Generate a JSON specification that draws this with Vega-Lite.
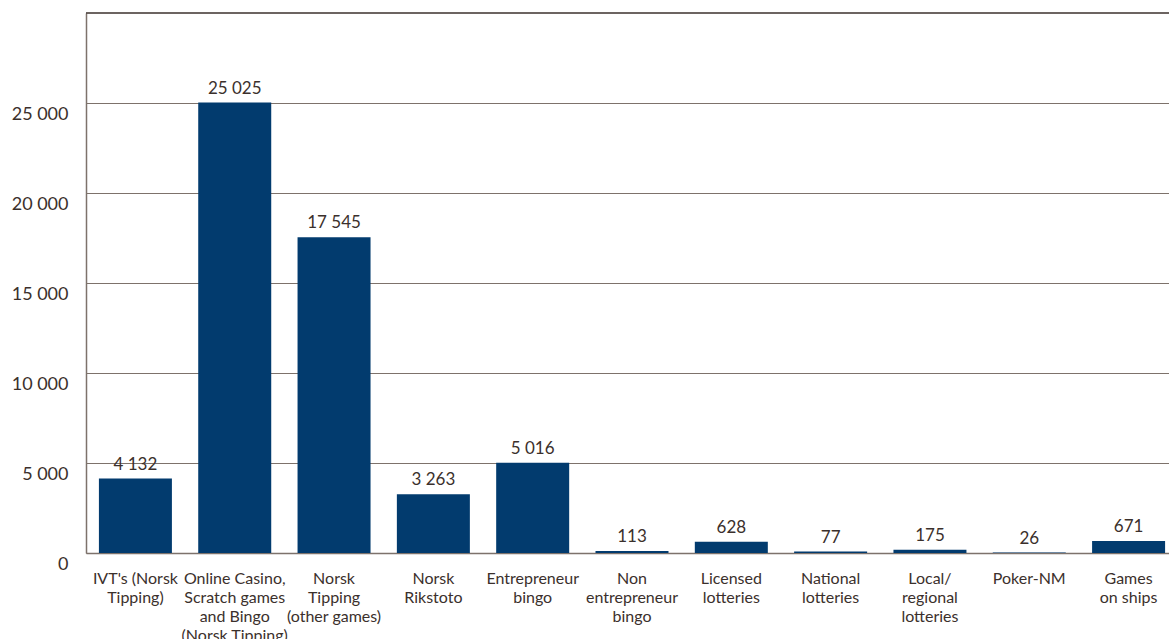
{
  "$schema": "https://vega.github.io/schema/vega-lite/v6.json",
  "width": 1092,
  "height": 540,
  "autosize": {"type": "none"},
  "padding": {"left": 86, "top": 13, "right": 0, "bottom": 86},
  "background": "white",
  "config": {
    "view": {"stroke": null},
    "font": "Lato"
  },
  "data": {
    "values": [
      {"category": "IVT's (Norsk|Tipping)", "value": 4132},
      {"category": "Online Casino,|Scratch games|and Bingo|(Norsk Tipping)", "value": 25025},
      {"category": "Norsk|Tipping|(other games)", "value": 17545},
      {"category": "Norsk|Rikstoto", "value": 3263},
      {"category": "Entrepreneur|bingo", "value": 5016},
      {"category": "Non|entrepreneur|bingo", "value": 113},
      {"category": "Licensed|lotteries", "value": 628},
      {"category": "National|lotteries", "value": 77},
      {"category": "Local/|regional|lotteries", "value": 175},
      {"category": "Poker-NM", "value": 26},
      {"category": "Games|on ships", "value": 671}
    ]
  },
  "layer": [
    {
      "mark": {"type": "bar", "color": "#023b6e"},
      "encoding": {
        "x": {
          "field": "category",
          "type": "nominal",
          "sort": null,
          "scale": {"paddingInner": 0.265, "paddingOuter": 0.13},
          "axis": {
            "title": null,
            "labelAngle": 0,
            "labelExpr": "split(datum.label, '|')",
            "labelFontSize": 16,
            "labelColor": "#3b302c",
            "labelLineHeight": 19,
            "labelPadding": 17,
            "labelBaseline": "top",
            "labelLimit": 200,
            "ticks": false,
            "domainColor": "#7d726b",
            "domainWidth": 1.5
          }
        },
        "y": {
          "field": "value",
          "type": "quantitative",
          "scale": {"domain": [0, 30000], "nice": false},
          "axis": {
            "title": null,
            "values": [0, 5000, 10000, 15000, 20000, 25000],
            "labelExpr": "replace(format(datum.value, ','), ',', ' ')",
            "labelFontSize": 18,
            "labelColor": "#3b302c",
            "labelPadding": 18,
            "labelOffset": 11,
            "ticks": false,
            "domainColor": "#7d726b",
            "domainWidth": 1.5,
            "grid": true,
            "gridColor": "#7d726b",
            "gridWidth": 1.2
          }
        }
      }
    },
    {
      "mark": {"type": "text", "baseline": "alphabetic", "dy": -9, "fontSize": 17, "color": "#3b302c"},
      "encoding": {
        "x": {"field": "category", "type": "nominal", "sort": null},
        "y": {"field": "value", "type": "quantitative"},
        "text": {"field": "label"}
      },
      "transform": [
        {"calculate": "replace(format(datum.value, ','), ',', ' ')", "as": "label"}
      ]
    },
    {
      "data": {"values": [{"top": 30000}]},
      "mark": {"type": "rule", "color": "#3b302c", "strokeWidth": 1.5},
      "encoding": {"y": {"field": "top", "type": "quantitative"}}
    }
  ]
}
